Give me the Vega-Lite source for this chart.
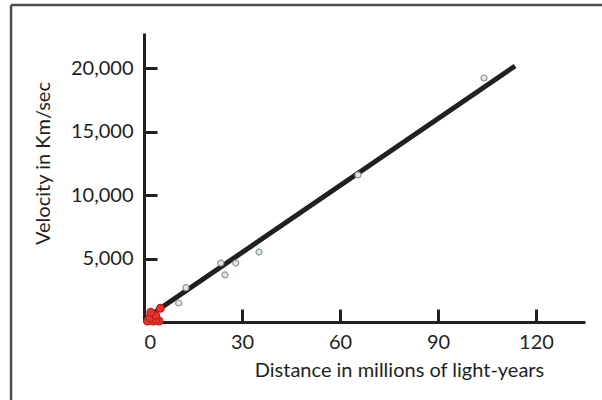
{
  "$schema": "https://vega.github.io/schema/vega-lite/v6.json",
  "autosize": {"type": "none"},
  "padding": {"left": 144, "top": 33, "right": 17, "bottom": 78},
  "width": 441,
  "height": 289,
  "background": "white",
  "config": {
    "view": {"stroke": null},
    "font": "Lato",
    "axis": {
      "labelFont": "Lato",
      "titleFont": "Lato",
      "labelColor": "#231f20",
      "titleColor": "#231f20",
      "domainColor": "#231f20",
      "tickColor": "#231f20",
      "domainWidth": 3,
      "tickWidth": 3,
      "grid": false,
      "labelFontSize": 20,
      "titleFontSize": 20,
      "titleFontWeight": "normal"
    }
  },
  "datasets": {
    "obs": [
      {"dist": 1.1, "vel": 80, "set": "Hubble 1929"},
      {"dist": 2.85, "vel": 80, "set": "Hubble 1929"},
      {"dist": 4.6, "vel": 80, "set": "Hubble 1929"},
      {"dist": 3.7, "vel": 170, "set": "Hubble 1929"},
      {"dist": 1.84, "vel": 340, "set": "Hubble 1929"},
      {"dist": 3.6, "vel": 500, "set": "Hubble 1929"},
      {"dist": 2.05, "vel": 765, "set": "Hubble 1929"},
      {"dist": 5.0, "vel": 1080, "set": "Hubble 1929"},
      {"dist": 10.6, "vel": 1500, "set": "Humason 1931"},
      {"dist": 12.8, "vel": 2710, "set": "Humason 1931"},
      {"dist": 24.8, "vel": 3710, "set": "Humason 1931"},
      {"dist": 23.5, "vel": 4650, "set": "Humason 1931"},
      {"dist": 28.1, "vel": 4650, "set": "Humason 1931"},
      {"dist": 35.2, "vel": 5520, "set": "Humason 1931"},
      {"dist": 65.5, "vel": 11600, "set": "Humason 1931"},
      {"dist": 104.1, "vel": 19250, "set": "Humason 1931"}
    ],
    "fit": [
      {"dist": 0, "vel": 200},
      {"dist": 113.6, "vel": 20200}
    ],
    "frame": [
      {"x0": -40.7, "x1": 150, "y0": 25009, "y1": 25009},
      {"x0": -40.7, "x1": -40.7, "y0": 25009, "y1": -8000}
    ]
  },
  "layer": [
    {
      "data": {"name": "fit"},
      "mark": {"type": "line", "color": "#231f20", "strokeWidth": 5, "strokeCap": "butt"},
      "encoding": {
        "x": {
          "field": "dist", "type": "quantitative",
          "scale": {"domain": [0, 135], "nice": false, "zero": false},
          "axis": {
            "values": [0, 30, 60, 90, 120],
            "format": "d",
            "tickSize": -13,
            "labelPadding": 23,
            "title": "Distance in millions of light-years",
            "titleX": 255,
            "titleY": 48,
            "titleAlign": "center",
            "titleBaseline": "middle",
            "titleAnchor": null
          }
        },
        "y": {
          "field": "vel", "type": "quantitative",
          "scale": {"domain": [0, 22800], "nice": false, "zero": false},
          "axis": {
            "values": [5000, 10000, 15000, 20000],
            "format": ",d",
            "tickSize": -13,
            "labelPadding": 24,
            "title": "Velocity in Km/sec",
            "titleX": -101,
            "titleY": 130,
            "titleAngle": -90,
            "titleAlign": "center",
            "titleBaseline": "middle",
            "titleAnchor": null
          }
        }
      }
    },
    {
      "data": {"name": "obs"},
      "mark": {"type": "point", "filled": true, "opacity": 1, "strokeWidth": 1.2},
      "encoding": {
        "x": {"field": "dist", "type": "quantitative"},
        "y": {"field": "vel", "type": "quantitative"},
        "fill": {"field": "set", "type": "nominal", "legend": null,
          "scale": {"domain": ["Humason 1931", "Hubble 1929"], "range": ["#dfe7e7", "#e8342c"]}},
        "stroke": {"field": "set", "type": "nominal", "legend": null,
          "scale": {"domain": ["Humason 1931", "Hubble 1929"], "range": ["#8a9898", "#b8231d"]}},
        "size": {"field": "set", "type": "nominal", "legend": null,
          "scale": {"domain": ["Humason 1931", "Hubble 1929"], "range": [36, 60]}},
        "order": {"field": "set", "sort": "descending"}
      }
    },
    {
      "data": {"name": "frame"},
      "mark": {"type": "rule", "clip": false, "color": "#4d4d4d", "strokeWidth": 2.5},
      "encoding": {
        "x": {"field": "x0", "type": "quantitative"},
        "x2": {"field": "x1"},
        "y": {"field": "y0", "type": "quantitative"},
        "y2": {"field": "y1"}
      }
    }
  ]
}
